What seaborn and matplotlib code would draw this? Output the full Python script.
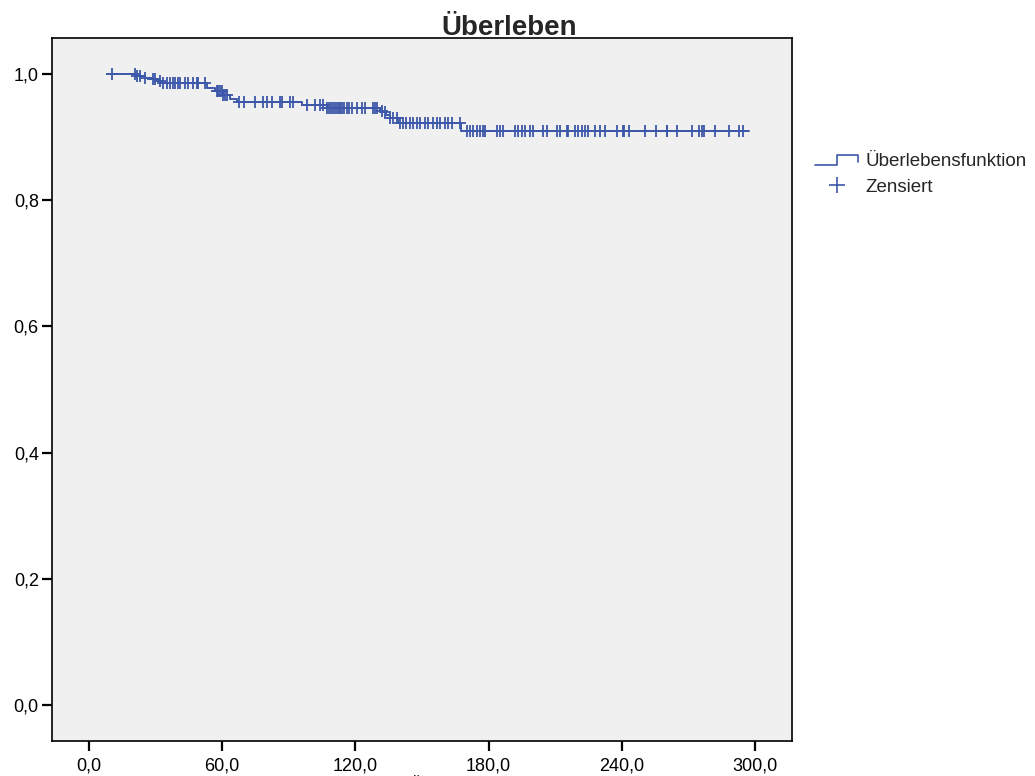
import numpy as np
import pandas as pd
import matplotlib
matplotlib.use("Agg")
import matplotlib.pyplot as plt
from matplotlib.lines import Line2D
from matplotlib.legend_handler import HandlerBase
import seaborn as sns

# ---- data ----
step_times = [8.0, 21.5, 25.2, 28.2, 31.2, 32.7, 53.0, 56.8, 60.4, 63.5, 66.5,
              95.8, 107.0, 131.0, 132.6, 134.0, 135.6, 139.3, 167.5, 297.3]
survival = [1.0, 0.9968, 0.9942, 0.9916, 0.989, 0.9852, 0.977, 0.9735, 0.9667,
            0.9598, 0.955, 0.951, 0.9466, 0.942, 0.939, 0.935, 0.9297, 0.922,
            0.910, 0.910]
censor_times = [10.3, 20.7, 21.5, 23.0, 25.2, 29.0, 29.7, 32.0, 33.5, 35.0, 36.5,
                38.0, 38.7, 40.2, 41.0, 43.2, 44.7, 47.0, 48.5, 49.2, 52.2, 57.5,
                58.3, 59.0, 59.8, 60.5, 61.3, 62.0, 67.5, 69.8, 74.8, 78.5, 80.0,
                82.3, 86.0, 87.0, 90.5, 92.0, 98.0, 101.8, 104.0, 105.5, 107.0,
                108.0, 109.0, 110.0, 111.0, 111.5, 112.5, 113.0, 114.0, 115.0,
                116.0, 117.0, 118.3, 120.6, 122.8, 124.3, 128.0, 128.8, 129.6,
                131.8, 133.3, 135.6, 137.1, 138.6, 140.1, 141.6, 143.0, 144.5,
                146.0, 147.6, 149.0, 151.4, 152.9, 155.1, 156.6, 158.1, 160.4,
                161.9, 163.4, 167.0, 170.1, 171.6, 173.1, 174.6, 176.1, 177.6,
                178.4, 183.6, 185.1, 186.6, 191.9, 193.4, 194.9, 196.4, 198.6,
                200.2, 204.7, 206.2, 210.7, 212.2, 215.2, 215.9, 218.9, 220.4,
                221.9, 223.4, 224.9, 227.9, 230.2, 232.6, 238.0, 240.7, 241.1,
                243.4, 250.4, 255.4, 260.2, 260.6, 265.1, 271.8, 274.9, 276.0,
                277.0, 282.0, 288.3, 293.0, 294.4]
x_ticks = [0, 60, 120, 180, 240, 300]
x_tick_labels = ["0,0", "60,0", "120,0", "180,0", "240,0", "300,0"]
y_ticks = [0.0, 0.2, 0.4, 0.6, 0.8, 1.0]
y_tick_labels = ["0,0", "0,2", "0,4", "0,6", "0,8", "1,0"]
title = "Überleben"
x_label = "Überlebenszeit in Monaten"
legend_labels = ["Überlebensfunktion", "Zensiert"]

# ---- style ----
sns.set_style("ticks")
plt.rcParams["font.family"] = ["Liberation Sans", "DejaVu Sans"]
COLOR = "#3D57A9"

curve = pd.DataFrame({"t": step_times, "s": survival})
idx = np.searchsorted(np.array(step_times), np.array(censor_times), side="right") - 1
cens = pd.DataFrame({"t": censor_times, "s": np.array(survival)[idx]})

fig = plt.figure(figsize=(10.35, 7.76), dpi=100)
ax = fig.add_axes([52 / 1035, 1 - 740.7 / 776, (792 - 52) / 1035, (740.7 - 38) / 776])
ax.set_facecolor("#F0F0F0")

sns.lineplot(data=curve, x="t", y="s", ax=ax, estimator=None, sort=False,
             drawstyle="steps-post", color=COLOR, linewidth=1.4, legend=False)
sns.scatterplot(data=cens, x="t", y="s", ax=ax, marker="+", s=70,
                color=COLOR, linewidth=1.3, legend=False)

ax.set_xlim(-16.7, 316.7)
ax.set_ylim(-0.0566, 1.057)
ax.set_xticks(x_ticks)
ax.set_xticklabels(x_tick_labels)
ax.set_yticks(y_ticks)
ax.set_yticklabels(y_tick_labels)
ax.set_xlabel("")
ax.set_ylabel("")
ax.tick_params(axis="both", direction="out", length=7.5, width=1.6,
               color="black", labelsize=13, labelcolor="black", pad=2)
ax.tick_params(axis="x", pad=4.5)
for sp in ax.spines.values():
    sp.set_visible(True)
    sp.set_color("black")
    sp.set_linewidth(1.2)

fig.text(509 / 1035, 1 - 35 / 776, title, ha="center", va="baseline",
         fontsize=20, fontweight="bold")
# axis title: in the reference it is cut off by the bottom edge, only the
# dots of its first letter remain visible
fig.text(517 / 1035, 1 - 789.5 / 776, x_label, ha="center", va="baseline",
         fontsize=13)


class StepHandler(HandlerBase):
    def create_artists(self, legend, orig_handle, xdescent, ydescent,
                       width, height, fontsize, trans):
        xs = np.array([0.0, 0.5, 0.5, 1.0, 1.0]) * width - xdescent
        ys = np.array([0.1, 0.1, 0.85, 0.85, 0.35]) * height - ydescent
        ln = Line2D(xs, ys, color=COLOR, lw=1.2, transform=trans)
        return [ln]


step_proxy = Line2D([], [], color=COLOR)
cens_proxy = Line2D([], [], color=COLOR, marker="+", linestyle="",
                    markersize=11, markeredgewidth=1.2)
fig.legend([step_proxy, cens_proxy], legend_labels, loc="upper left",
           bbox_to_anchor=(815 / 1035, 1 - 153 / 776),
           bbox_transform=fig.transFigure, frameon=False, fontsize=13.5,
           handlelength=2.3, handletextpad=0.4, labelspacing=0.45,
           borderpad=0, borderaxespad=0,
           handler_map={step_proxy: StepHandler()})

fig.savefig("out.png", dpi=100)
